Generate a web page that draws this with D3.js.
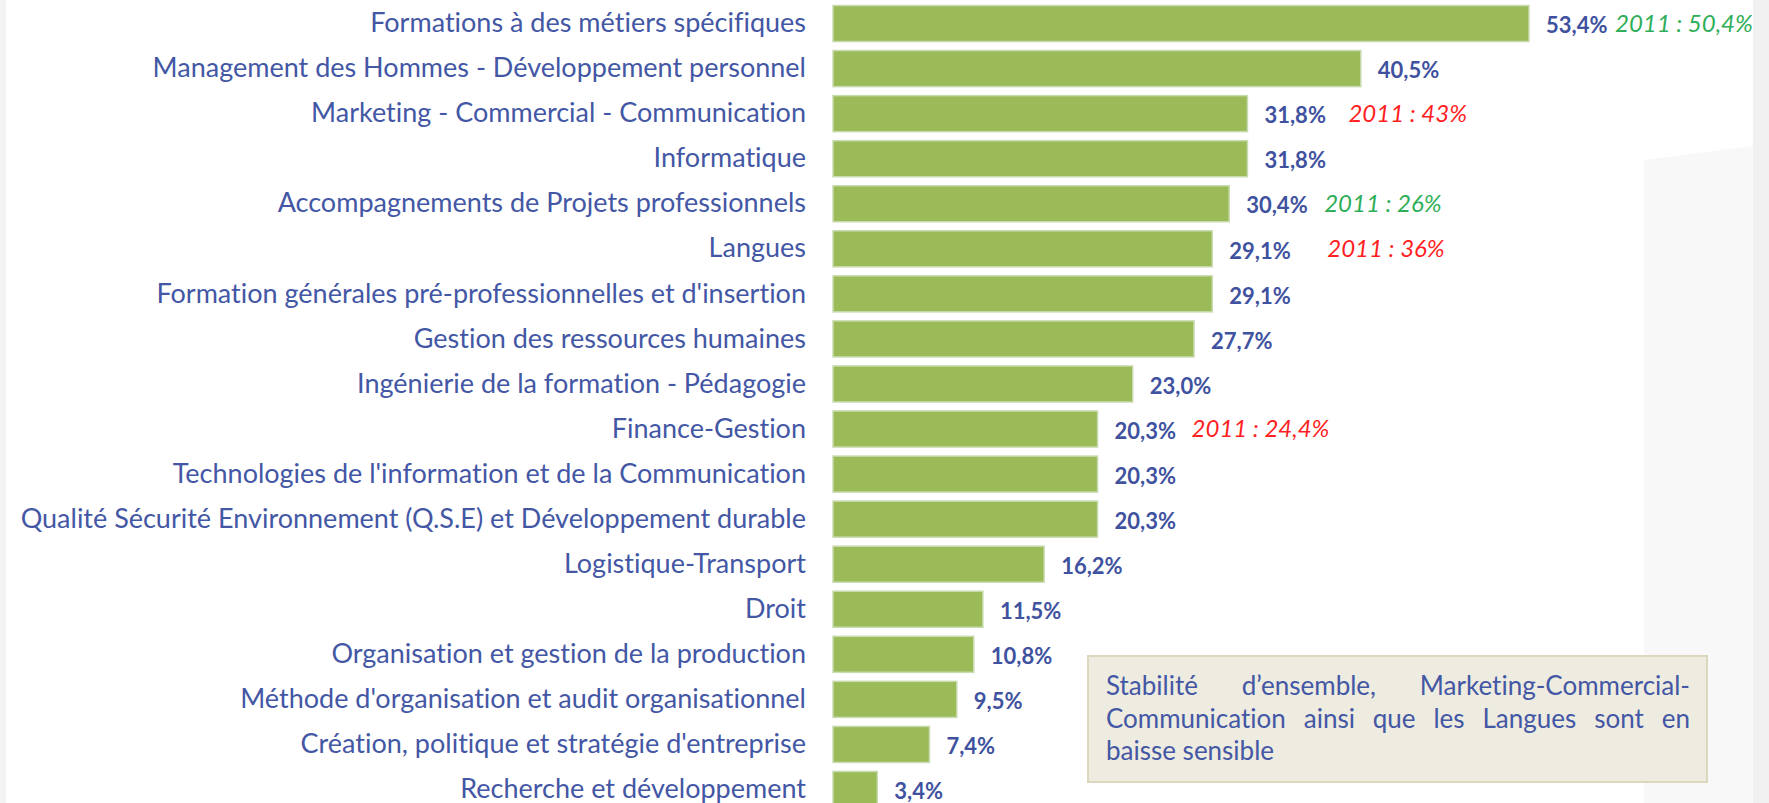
<!DOCTYPE html>
<html>
  <head>
    <title>Formations 2012</title>
    <style>
      body { margin: 0; background: #fff; }
      svg text { font-variant-ligatures: none; }
    </style>
  </head>
  <body>
    <div id="chart"></div>
  </body>
  <script src="https://d3js.org/d3.v7.min.js"></script>
  <script>

    // categories, top to bottom
    let categories = [
      "Formations à des métiers spécifiques",
      "Management des Hommes - Développement personnel",
      "Marketing - Commercial - Communication",
      "Informatique",
      "Accompagnements de Projets professionnels",
      "Langues",
      "Formation générales pré-professionnelles et d'insertion",
      "Gestion des ressources humaines",
      "Ingénierie de la formation - Pédagogie",
      "Finance-Gestion",
      "Technologies de l'information et de la Communication",
      "Qualité Sécurité Environnement (Q.S.E) et Développement durable",
      "Logistique-Transport",
      "Droit",
      "Organisation et gestion de la production",
      "Méthode d'organisation et audit organisationnel",
      "Création, politique et stratégie d'entreprise",
      "Recherche et développement"
    ];

    // share in %
    let values = [53.4, 40.5, 31.8, 31.8, 30.4, 29.1, 29.1, 27.7, 23.0, 20.3, 20.3, 20.3, 16.2, 11.5, 10.8, 9.5, 7.4, 3.4];

    // 2011 comparison notes
    let noteCategories = ["Formations à des métiers spécifiques", "Marketing - Commercial - Communication",
      "Accompagnements de Projets professionnels", "Langues", "Finance-Gestion"];
    let noteTexts = ["2011 : 50,4%", "2011 : 43%", "2011 : 26%", "2011 : 36%", "2011 : 24,4%"];
    let noteTrends = ["up", "down", "up", "down", "down"];

    let width = 1769, height = 803;
    let blue = "#4357a5";
    let font = "Lato, 'Open Sans', sans-serif";

    let svg = d3.select("#chart").append("svg")
      .attr("width", width)
      .attr("height", height)
      .style("display", "block");

    // faint slide background bits
    svg.append("rect").attr("x", 0).attr("y", 0).attr("width", 6).attr("height", height).attr("fill", "#f3f3f3");
    svg.append("path")
      .attr("d", "M1644,160 L1753,146 L1753," + height + " L1644," + height + " Z")
      .attr("fill", "#f8f8f8");
    svg.append("rect").attr("x", 1753).attr("y", 0).attr("width", 16).attr("height", height).attr("fill", "#f1f1f1");

    let xScale = d3.scaleLinear()
      .domain([0, 60])
      .range([833, 1615]);

    let yScale = d3.scaleBand()
      .domain(categories)
      .range([1, 812])
      .paddingInner(0.2)
      .paddingOuter(0.1);

    let data = categories.map(function(c, i) { return {category: c, value: values[i]}; });

    // bars
    svg.selectAll(".bar")
      .data(data)
      .enter().append("rect")
      .attr("class", "bar")
      .attr("x", xScale(0))
      .attr("y", function(d) { return yScale(d.category); })
      .attr("width", function(d) { return xScale(d.value) - xScale(0); })
      .attr("height", yScale.bandwidth())
      .attr("fill", "#9bbb59")
      .attr("stroke", "#c9dbb0")
      .attr("stroke-width", 1.5);

    // category axis
    let axis = svg.append("g")
      .attr("transform", "translate(" + xScale(0) + ",0)")
      .call(d3.axisLeft(yScale).tickSize(0).tickPadding(27));
    axis.select(".domain").remove();
    axis.selectAll("text")
      .attr("fill", blue)
      .style("font-family", font)
      .style("font-size", "27px");

    // value labels
    let fmt = function(v) { return v.toFixed(1).replace(".", ",") + "%"; };
    svg.selectAll(".value")
      .data(data)
      .enter().append("text")
      .attr("class", "value")
      .attr("x", function(d) { return xScale(d.value) + 17; })
      .attr("y", function(d) { return yScale(d.category) + yScale.bandwidth() / 2 + 2; })
      .attr("dy", "0.35em")
      .attr("fill", "#3f52a0")
      .style("font-family", font)
      .style("font-weight", "bold")
      .style("font-size", "22px")
      .text(function(d) { return fmt(d.value); });

    // 2011 notes, offset from bar end
    let noteOffset = {"Formations à des métiers spécifiques": 86, "Marketing - Commercial - Communication": 101,
      "Accompagnements de Projets professionnels": 95, "Langues": 115, "Finance-Gestion": 94};
    let notes = noteCategories.map(function(c, i) {
      return {category: c, text: noteTexts[i], trend: noteTrends[i], value: values[categories.indexOf(c)]};
    });
    svg.selectAll(".note")
      .data(notes)
      .enter().append("text")
      .attr("class", "note")
      .attr("x", function(d) { return xScale(d.value) + noteOffset[d.category]; })
      .attr("y", function(d) { return yScale(d.category) + yScale.bandwidth() / 2; })
      .attr("dy", "0.35em")
      .attr("fill", function(d) { return d.trend === "up" ? "#2eae58" : "#ff1f1f"; })
      .style("font-family", font)
      .style("font-style", "italic")
      .style("font-size", "24px")
      .text(function(d) { return d.text; });

    // comment box
    let box = {x: 1088, y: 656, w: 619, h: 126};
    svg.append("rect")
      .attr("x", box.x).attr("y", box.y)
      .attr("width", box.w).attr("height", box.h)
      .attr("fill", "#eeebe0")
      .attr("stroke", "#dcd7bd")
      .attr("stroke-width", 2);

    // justified lines
    let lines = [
      ["Stabilité", "d’ensemble,", "Marketing-Commercial-"],
      ["Communication", "ainsi", "que", "les", "Langues", "sont", "en"],
      ["baisse sensible"]
    ];
    let left = 1106, right = 1690;
    lines.forEach(function(words, li) {
      let y = 695 + li * 32.5;
      let nodes = words.map(function(w) {
        return svg.append("text")
          .attr("y", y)
          .attr("fill", blue)
          .style("font-family", font)
          .style("font-size", "26px")
          .text(w);
      });
      let widths = nodes.map(function(n) { return n.node().getComputedTextLength(); });
      let total = d3.sum(widths);
      let gap = (li === lines.length - 1) ? 0 : (right - left - total) / (words.length - 1);
      let cx = left;
      nodes.forEach(function(n, i) {
        n.attr("x", cx);
        cx += widths[i] + gap;
      });
    });

  </script>
</html>
